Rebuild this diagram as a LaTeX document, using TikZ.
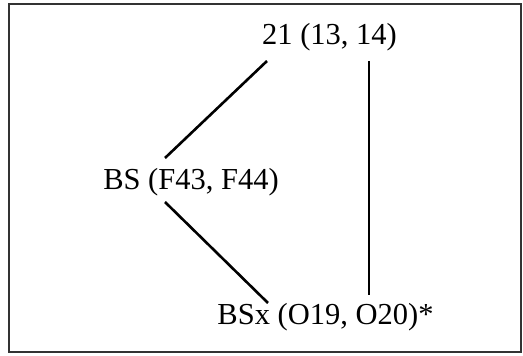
\documentclass[tikz,border=0pt]{standalone}
\usepackage{fontspec}
\setmainfont{Liberation Serif}
\begin{document}
\begin{tikzpicture}[x=1pt,y=1pt,
  lbl/.style={inner sep=0pt, anchor=base, font=\fontsize{30.5}{34}\selectfont},
  conn/.style={line width=2.6pt, black}]
\useasboundingbox (0,0) rectangle (523,356);
\draw[line width=1.8pt, black!80] (9,352) rectangle (521,4);
\node[lbl] (t) at (329.5,311) {21 (13, 14)};
\node[lbl] (bs) at (191,166) {BS (F43, F44)};
\node[lbl] (bsx) at (325.5,31) {BSx (O19, O20)*};
\coordinate (t-l) at (267,295);
\coordinate (t-r) at (369,295);
\coordinate (bs-u) at (165,198);
\coordinate (bs-d) at (165,154);
\coordinate (bsx-l) at (268,53);
\coordinate (bsx-r) at (369,61);
\draw[conn] (t-l) -- (bs-u);
\draw[conn] (bs-d) -- (bsx-l);
\draw[conn] (t-r) -- (bsx-r);
\end{tikzpicture}
\end{document}
